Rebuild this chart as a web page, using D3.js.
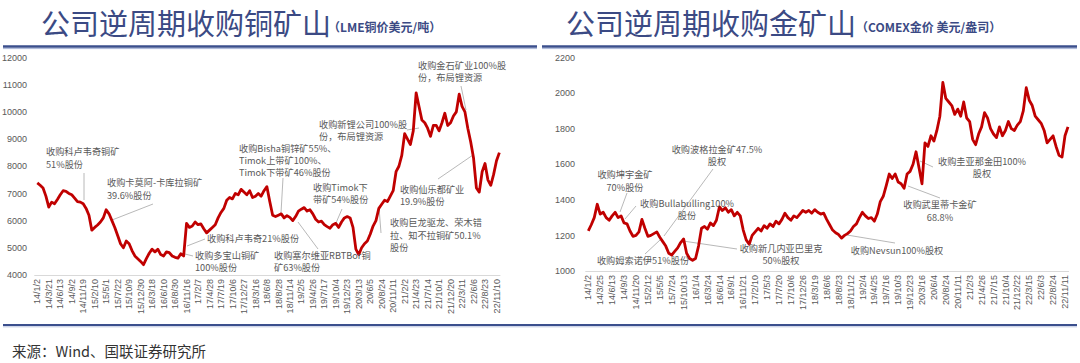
<!DOCTYPE html>
<html><head><meta charset="utf-8">
<script src="https://cdn.jsdelivr.net/npm/d3@7"></script>
<style>body{margin:0;background:#fff} svg{display:block}</style>
</head><body>
<svg id="chart" width="1080" height="363"></svg>
<script>
// ---- data (category axis: 4 samples per tick interval) ----
var copperTicks = ["14/1/2","14/3/21","14/6/13","14/9/2","14/11/19","15/2/10","15/5/1","15/7/22","15/10/9","15/12/30",
  "16/3/18","16/6/10","16/8/30","16/11/16","17/2/7","17/4/28","17/7/19","17/10/6","17/12/27","18/3/16","18/6/8",
  "18/8/28","18/11/14","19/2/5","19/4/26","19/7/17","19/10/4","19/12/23","20/3/13","20/6/5","20/8/24","20/11/11",
  "21/2/2","21/4/23","21/7/14","21/10/1","21/12/20","22/3/11","22/6/6","22/8/23","22/11/10"];
var copperYTicks = [4000,5000,6000,7000,8000,9000,10000,11000,12000];
var copperPrice = [7390,7300,7200,6900,6500,6680,6620,6780,6950,7100,7080,7000,6950,6830,6700,6680,6620,6450,6200,5650,
  5750,5840,5950,6100,6400,6250,6000,5750,5450,5150,5000,5250,5150,4900,4700,4600,4500,4380,4600,4800,
  4950,4850,4950,4750,4700,4850,4820,4700,4650,4620,4780,4700,5900,5750,5800,5950,5850,5880,5700,5550,
  5650,5750,5850,6100,6300,6450,6750,6850,6800,7000,6950,7150,7050,6950,7100,6850,6900,7000,6900,7100,
  7250,6700,6200,6150,6200,6250,6100,6180,6120,6000,6150,6350,6420,6480,6350,6400,6250,6050,5950,5980,
  5850,5780,5720,5850,5900,5750,5950,6100,6150,6100,5750,4950,4750,5000,5150,5250,5500,5800,6000,6450,
  6600,6750,6700,6900,7100,7800,8000,8400,9200,9000,8800,9300,10700,10200,9700,9600,9400,9100,9500,9500,
  9300,9600,9950,9500,9600,9850,10000,10650,10200,10000,9400,8900,8300,7200,7050,7800,8100,7500,7300,7700,
  8200,8500];

var goldTicks = ["14/1/2","14/3/25","14/6/13","14/9/3","14/11/20","15/2/12","15/5/5","15/7/24","15/10/13","16/1/4",
  "16/3/24","16/6/14","16/9/1","16/11/21","17/2/10","17/5/3","17/7/20","17/10/6","17/12/26","18/3/19","18/6/6",
  "18/8/23","18/11/12","19/2/4","19/4/25","19/7/16","19/10/3","19/12/23","20/3/16","20/6/4","20/8/24","20/11/11",
  "21/2/3","21/4/26","21/7/15","21/10/4","21/12/22","22/3/15","22/6/3","22/8/24","22/11/11"];
var goldYTicks = [1000,1200,1400,1600,1800,2000,2200];
var goldPrice = [1225,1260,1300,1375,1320,1330,1300,1285,1310,1330,1300,1310,1270,1265,1225,1195,1200,1220,1290,1240,
  1195,1200,1210,1220,1190,1165,1140,1100,1090,1110,1130,1160,1180,1100,1070,1060,1070,1140,1240,1250,
  1235,1270,1255,1285,1360,1340,1355,1330,1345,1310,1330,1310,1230,1175,1150,1200,1220,1240,1225,1255,
  1240,1265,1250,1280,1265,1290,1325,1300,1285,1310,1300,1320,1340,1330,1340,1325,1345,1330,1320,1325,
  1290,1260,1230,1215,1205,1185,1200,1210,1225,1250,1265,1300,1330,1310,1295,1300,1280,1320,1390,1420,
  1480,1545,1520,1545,1500,1490,1465,1545,1560,1600,1670,1580,1490,1720,1700,1760,1730,1790,1870,2060,
  1970,1950,1930,1880,1910,1870,1950,1860,1840,1740,1710,1770,1810,1890,1860,1800,1770,1750,1810,1760,
  1790,1840,1800,1790,1820,1840,1900,2030,1960,1930,1870,1850,1830,1790,1720,1740,1760,1700,1650,1640,
  1760,1810];

// ---- annotations (text + pixel layout) ----
var copperNotes = [
  {t:["收购科卢韦奇铜矿","51%股份"], x:46, y:152, a:"start", lh:12.5, l:[84,173,84,200]},
  {t:["收购卡莫阿-卡库拉铜矿","39.6%股份"], x:107, y:183, a:"start", lh:12.5, l:[153,204,112,220]},
  {t:["收购多宝山铜矿","100%股份"], x:195, y:256, a:"start", lh:12, l:[181,253,193,256]},
  {t:["收购科卢韦奇21%股份"], x:207, y:239, a:"start", lh:12, l:[205,239,187,246]},
  {t:["收购Bisha铜锌矿55%、","Timok上带矿100%、","Timok下带矿46%股份"], x:239, y:149, a:"start", lh:12, l:[283,178,281,213]},
  {t:["收购Timok下","带矿54%股份"], x:313, y:188, a:"start", lh:12, l:[342,209,336,223]},
  {t:["收购塞尔维亚RBTBor铜","矿63%股份"], x:274, y:255.5, a:"start", lh:12, l:[318,249,298,222]},
  {t:["收购新锂公司100%股","份，布局锂资源"], x:319, y:125, a:"start", lh:12, l:[407,130,419,128]},
  {t:["收购金石矿业100%股","份，布局锂资源"], x:418, y:66, a:"start", lh:12, l:[461,86,466,110]},
  {t:["收购仙乐都矿业","19.9%股份"], x:400, y:189.5, a:"start", lh:12, l:[438,179,473,155]},
  {t:["收购巨龙驱龙、荣木错","拉、知不拉铜矿50.1%","股份"], x:390, y:223, a:"start", lh:12.5, l:[379,207,381,233]}
];
var goldNotes = [
  {t:["收购坤宇金矿","70%股份"], x:625, y:175, a:"middle", lh:13, l:[627,193,620,212]},
  {t:["收购Bullabulling100%","股份"], x:687, y:204, a:"middle", lh:12, l:[636,206,625,219]},
  {t:["收购波格拉金矿47.5%","股权"], x:717, y:150, a:"middle", lh:12, l:[713,169,664,236]},
  {t:["收购姆索诺伊51%股份"], x:643, y:261, a:"middle", lh:12, l:[645,254,660,240]},
  {t:["收购新几内亚巴里克","50%股权"], x:781, y:248.5, a:"middle", lh:12, l:[737,249,683,241]},
  {t:["收购Nevsun100%股权"], x:897, y:251, a:"middle", lh:12, l:[895,243,847,235]},
  {t:["收购武里蒂卡金矿","68.8%"], x:940, y:205, a:"middle", lh:13, l:[940,198,908,186]},
  {t:["收购圭亚那金田100%","股权"], x:982, y:162, a:"middle", lh:12, l:[933,167,920,161]}
];

var svg = d3.select("#chart");
var titleColor = "#3b4a84";
var cjk = "'Noto Sans CJK SC','Noto Sans',sans-serif";
var lineRed = "#c00000";
var labelGrey = "#595959";

function header(x0, x1, title, titleX, sub, subX) {
  svg.append("text").attr("x", titleX).attr("y", 35)
    .attr("font-family", cjk).attr("font-size", 29).attr("fill", titleColor)
    .text(title);
  svg.append("text").attr("x", subX).attr("y", 32)
    .attr("font-family", cjk).attr("font-size", 12).attr("font-weight", "bold").attr("fill", titleColor)
    .text(sub);
  svg.append("line").attr("x1", x0).attr("x2", x1).attr("y1", 46.5).attr("y2", 46.5)
    .attr("stroke", "#3b4f8d").attr("stroke-width", 2.6);
  svg.append("line").attr("x1", x0).attr("x2", x1).attr("y1", 48.6).attr("y2", 48.6)
    .attr("stroke", "#a8b5d8").attr("stroke-width", 1);
}

function panel(cfg) {
  var g = svg.append("g");
  var x = d3.scaleLinear().domain([0, (cfg.ticks.length - 1) * 4]).range([cfg.x0, cfg.x1]);
  var y = d3.scaleLinear().domain(cfg.yDomain).range([cfg.yBottom, cfg.yTop]);

  // y tick labels
  g.selectAll(".yl").data(cfg.yTicks).enter().append("text")
    .attr("x", cfg.yLabelX).attr("y", function(d){ return y(d); }).attr("dy", "0.35em")
    .attr("text-anchor", "end").attr("font-family", "'Liberation Sans',Arial,sans-serif")
    .attr("font-size", 9).attr("fill", labelGrey).text(function(d){ return d; });

  // x axis line
  g.append("line").attr("x1", cfg.x0 - 3).attr("x2", x(cfg.data.length - 1) + 1)
    .attr("y1", cfg.yBottom + 0.5).attr("y2", cfg.yBottom + 0.5)
    .attr("stroke", "#d9d9d9").attr("stroke-width", 1);

  // x tick labels
  g.selectAll(".xl").data(cfg.ticks).enter().append("text")
    .attr("transform", function(d, i){ return "translate(" + x(i * 4) + "," + (cfg.yBottom + 4) + ") rotate(-90)"; })
    .attr("dy", "0.35em").attr("text-anchor", "end")
    .attr("font-family", "'Liberation Sans',Arial,sans-serif").attr("font-size", 9).attr("fill", labelGrey)
    .text(function(d){ return d; });

  // leader lines
  g.selectAll(".ld").data(cfg.notes).enter().append("line")
    .attr("x1", function(d){ return d.l[0]; }).attr("y1", function(d){ return d.l[1]; })
    .attr("x2", function(d){ return d.l[2]; }).attr("y2", function(d){ return d.l[3]; })
    .attr("stroke", "#a6a6a6").attr("stroke-width", 0.8);

  // price line
  var line = d3.line().x(function(d, i){ return x(i); }).y(function(d){ return y(d); });
  g.append("path").datum(cfg.data).attr("d", line)
    .attr("fill", "none").attr("stroke", lineRed).attr("stroke-width", 2.8)
    .attr("stroke-linejoin", "round");

  // annotation text
  cfg.notes.forEach(function(n) {
    var t = g.append("text").attr("font-family", cjk).attr("font-size", 9.2)
      .attr("fill", labelGrey).attr("text-anchor", n.a);
    n.t.forEach(function(s, k) {
      t.append("tspan").attr("x", n.x).attr("y", n.y + k * n.lh).attr("dy", "0.35em").text(s);
    });
  });
}

header(3, 537, "公司逆周期收购铜矿山", 41, "（LME铜价美元/吨）", 328);
header(542, 1077, "公司逆周期收购金矿山", 566, "（COMEX金价 美元/盎司）", 856);

panel({ticks: copperTicks, yTicks: copperYTicks, data: copperPrice, notes: copperNotes,
  x0: 37.3, x1: 496.5, yDomain: [4000, 12000], yBottom: 275, yTop: 57.5, yLabelX: 27});
panel({ticks: goldTicks, yTicks: goldYTicks, data: goldPrice, notes: goldNotes,
  x0: 588.3, x1: 1065, yDomain: [1000, 2200], yBottom: 271, yTop: 57.5, yLabelX: 575});

// footer
svg.append("line").attr("x1", 3).attr("x2", 1077).attr("y1", 325).attr("y2", 325)
  .attr("stroke", "#3b4f8d").attr("stroke-width", 2);
svg.append("line").attr("x1", 3).attr("x2", 1077).attr("y1", 326.8).attr("y2", 326.8)
  .attr("stroke", "#a8b5d8").attr("stroke-width", 0.8);
svg.append("text").attr("x", 12).attr("y", 352).attr("dy", "0.35em")
  .attr("font-family", cjk).attr("font-size", 14.5).attr("fill", "#333")
  .text("来源：Wind、国联证券研究所");
</script>
</body></html>
